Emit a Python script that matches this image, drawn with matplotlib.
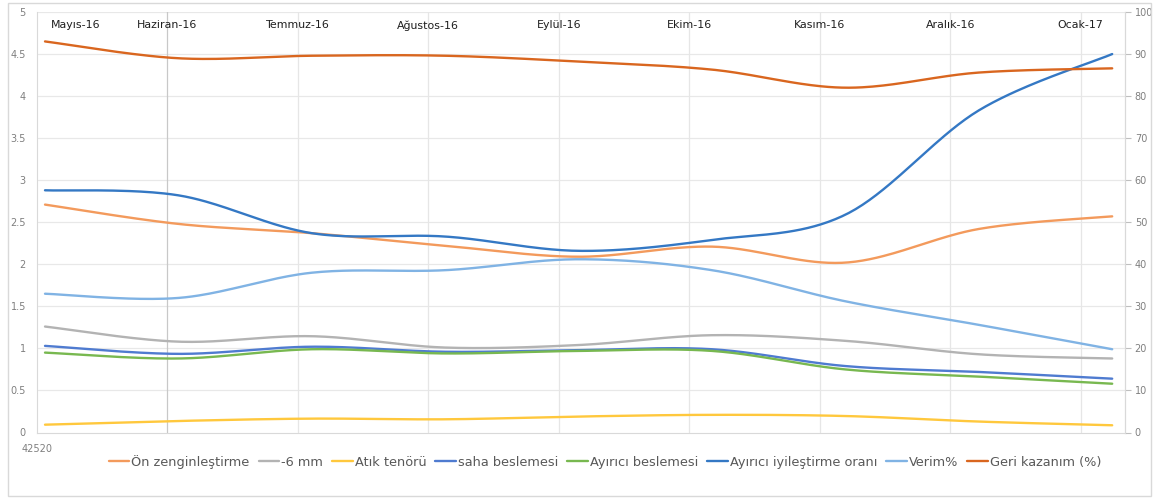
import numpy as np
import matplotlib
matplotlib.use("Agg")
import matplotlib.pyplot as plt
from matplotlib.patches import Rectangle

# ---------------- data ----------------
months = ["Mayıs-16", "Haziran-16", "Temmuz-16", "Ağustos-16", "Eylül-16",
          "Ekim-16", "Kasım-16", "Aralık-16", "Ocak-17"]
x_start_label = "42520"

on_zenginlestirme = [2.71, 2.48, 2.37, 2.22, 2.09, 2.21, 2.02, 2.42, 2.57]
alti_mm = [1.26, 1.08, 1.145, 1.01, 1.04, 1.157, 1.09, 0.93, 0.88]
atik_tenoru = [0.093, 0.137, 0.165, 0.157, 0.19, 0.21, 0.196, 0.13, 0.086]
saha_beslemesi = [1.03, 0.935, 1.02, 0.96, 0.98, 0.99, 0.79, 0.72, 0.64]
ayirici_beslemesi = [0.95, 0.88, 0.99, 0.94, 0.97, 0.97, 0.75, 0.665, 0.58]
ayirici_iyilestirme = [2.88, 2.82, 2.37, 2.33, 2.16, 2.29, 2.59, 3.83, 4.50]
verim = [33.0, 32.0, 38.0, 38.6, 41.2, 38.6, 31.2, 25.6, 19.8]
geri_kazanim = [93.0, 89.0, 89.6, 89.6, 88.2, 86.3, 82.0, 85.6, 86.6]

series_left = [
    ("Ön zenginleştirme", on_zenginlestirme, "#F39A5C"),
    ("-6 mm", alti_mm, "#B3B3B3"),
    ("Atık tenörü", atik_tenoru, "#FFC83D"),
    ("saha beslemesi", saha_beslemesi, "#4F7BD0"),
    ("Ayırıcı beslemesi", ayirici_beslemesi, "#78B850"),
    ("Ayırıcı iyileştirme oranı", ayirici_iyilestirme, "#3478C4"),
]
series_right = [
    ("Verim%", verim, "#80B3E4"),
    ("Geri kazanım (%)", geri_kazanim, "#D9661F"),
]


def smooth(xv, yv, n=40):
    P = np.column_stack([xv, yv]).astype(float)
    E = np.vstack([P[0], P, P[-1]])
    t = np.linspace(0, 1, n)[:, None]
    pts = []
    for i in range(len(P) - 1):
        p0, p3 = P[i], P[i + 1]
        c1 = p0 + (E[i + 2] - E[i]) / 6.0
        c2 = p3 - (E[i + 3] - E[i + 1]) / 6.0
        B = ((1 - t) ** 3) * p0 + 3 * ((1 - t) ** 2) * t * c1 + 3 * (1 - t) * t ** 2 * c2 + t ** 3 * p3
        pts.append(B if i == 0 else B[1:])
    B = np.vstack(pts)
    return B[:, 0], B[:, 1]


W, H = 1158, 499
fig = plt.figure(figsize=(W / 100, H / 100), dpi=100)
plt.rcParams["font.family"] = ["DejaVu Sans"]

# outer border
fig.patches.append(Rectangle((8 / W, 3 / H), (1151 - 8) / W, (496 - 3) / H,
                             transform=fig.transFigure, fill=False,
                             edgecolor="#D9D9D9", linewidth=1.0))

left_px, right_px, top_px, bot_px = 37, 1125, 12, 432.5
ax = fig.add_axes([left_px / W, 1 - bot_px / H, (right_px - left_px) / W, (bot_px - top_px) / H])
ax2 = ax.twinx()

x = np.arange(len(months))
xmin, xmax = -0.06, 8.096
grid_step = 0.978
grid_pos = [xmin + grid_step * k for k in range(9)]

ax.set_xlim(xmin, xmax)
ax.set_ylim(0, 5)
ax2.set_ylim(0, 100)

# gridlines
for y in np.arange(0.5, 5.01, 0.5):
    ax.axhline(y, color="#E8E8E8", linewidth=0.9, zorder=0)
for k, gx in enumerate(grid_pos[1:], start=1):
    ax.axvline(gx, color="#C8C8C8" if k == 1 else "#E6E6E6", linewidth=0.9, zorder=0)

handles = {}
for name, vals, col in series_left:
    sx, sy = smooth(x, vals)
    h, = ax.plot(sx, sy, color=col, linewidth=1.7, solid_capstyle="round", label=name, zorder=3)
    handles[name] = h
for name, vals, col in series_right:
    sx, sy = smooth(x, vals)
    h, = ax2.plot(sx, sy, color=col, linewidth=1.7, solid_capstyle="round", label=name, zorder=3)
    handles[name] = h

# month labels at top
label_y = 4.84
ax.text(0.045, label_y, months[0], ha="left", va="center", fontsize=7.9, color="#1F1F1F")
for k in range(1, len(months)):
    ax.text(grid_pos[k], label_y, months[k], ha="center", va="center", fontsize=7.9, color="#1F1F1F")

# ticks
ax.set_yticks(np.arange(0, 5.01, 0.5))
ax.set_yticklabels(["0", "0.5", "1", "1.5", "2", "2.5", "3", "3.5", "4", "4.5", "5"])
ax2.set_yticks(np.arange(0, 101, 10))
ax.set_xticks(grid_pos)
ax.set_xticklabels([x_start_label] + [""] * (len(grid_pos) - 1))

ax.tick_params(axis="y", length=0, labelsize=7, labelcolor="#7F7F7F", pad=8)
ax.tick_params(axis="x", length=0, labelsize=7, labelcolor="#7F7F7F", pad=8)
ax2.tick_params(axis="y", length=4, color="#BFBFBF", labelsize=7, labelcolor="#7F7F7F", pad=3)

for a in (ax, ax2):
    a.spines["top"].set_visible(False)
    a.spines["left"].set_color("#D9D9D9")
    a.spines["bottom"].set_color("#D9D9D9")
    a.spines["right"].set_color("#D9D9D9")
    a.patch.set_visible(False)
ax2.spines["left"].set_visible(False)
ax2.spines["bottom"].set_visible(False)

order = [s[0] for s in series_left] + [s[0] for s in series_right]
fig.legend([handles[n] for n in order], order, loc="center",
           bbox_to_anchor=(605 / W, 1 - 462 / H), ncol=8, frameon=False,
           fontsize=9.3, handlelength=1.6, handletextpad=0.15, columnspacing=0.7,
           labelcolor="#595959")

fig.savefig("out.png", dpi=100)
